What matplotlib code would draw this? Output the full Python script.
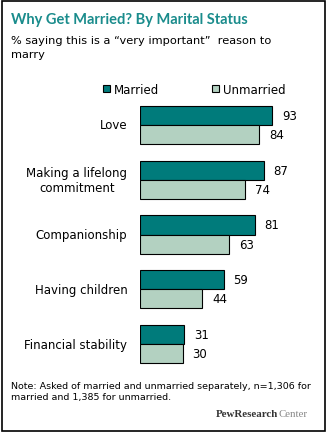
import matplotlib.pyplot as plt
from matplotlib.patches import Rectangle

categories = ["Love", "Making a lifelong\ncommitment", "Companionship",
              "Having children", "Financial stability"]
married = [93, 87, 81, 59, 31]
unmarried = [84, 74, 63, 44, 30]
series_names = ["Married", "Unmarried"]

W, H = 327, 435
teal = "#007b7b"
light = "#b3d1c1"

fig = plt.figure(figsize=(W / 100, H / 100), dpi=100)
fig.patch.set_facecolor("white")

# outer frame
fig.patches.append(Rectangle((1.5 / W, 3 / H), 323 / W, 430 / H,
                             transform=fig.transFigure, fill=False,
                             edgecolor="black", linewidth=1.2))

fig.text(11 / W, 1 - 20 / H, "Why Get Married? By Marital Status",
         fontsize=10.5, fontweight="bold", family="Lato", color="#1a8c8c",
         va="center")
fig.text(11 / W, 1 - 48 / H,
         "% saying this is a \u201cvery important\u201d  reason to\nmarry",
         fontsize=8.2, color="black", va="center", linespacing=1.45)

ax = fig.add_axes([140 / W, (H - 372.4) / H, 142 / W, 273.8 / H])
h = 0.35
y = list(range(len(categories)))
ax.barh([i - h / 2 for i in y], married, height=h, color=teal,
        edgecolor="black", linewidth=0.8, label=series_names[0])
ax.barh([i + h / 2 for i in y], unmarried, height=h, color=light,
        edgecolor="black", linewidth=0.8, label=series_names[1])
ax.set_xlim(0, 100)
ax.set_ylim(4.5, -0.5)
ax.axis("off")

for i, (m, u) in enumerate(zip(married, unmarried)):
    ax.annotate(str(m), (m, i - h / 2), xytext=(7, 0),
                textcoords="offset points", va="center", fontsize=8.5)
    ax.annotate(str(u), (u, i + h / 2), xytext=(7, 0),
                textcoords="offset points", va="center", fontsize=8.5)
    ax.annotate(categories[i], (0, i), xytext=(-9, 0),
                textcoords="offset points", va="center", ha="right",
                multialignment="center", fontsize=8.5, linespacing=1.2)

ax.legend(loc="upper left", bbox_to_anchor=(97 / W, 1 - 78 / H),
          bbox_transform=fig.transFigure, ncol=2, frameon=False,
          fontsize=8.5, handlelength=0.6, handleheight=0.6,
          handletextpad=0.3, columnspacing=4.5, borderpad=0)

fig.text(11 / W, 1 - 392 / H,
         "Note: Asked of married and unmarried separately, n=1,306 for\n"
         "married and 1,385 for unmarried.",
         fontsize=6.8, va="center", linespacing=1.35)

# logo: bold part, then light part right after it
pew = fig.text(216 / W, 1 - 415 / H, "PewResearch", fontsize=7.8,
               family="Liberation Serif", fontweight="bold",
               color="#333333", va="center")
fig.canvas.draw()
bb = pew.get_window_extent().transformed(fig.transFigure.inverted())
fig.text(bb.x1, 1 - 415 / H, "Center", fontsize=7.8,
         family="Liberation Serif", color="#888888", va="center")

fig.savefig("out.png", dpi=100)
